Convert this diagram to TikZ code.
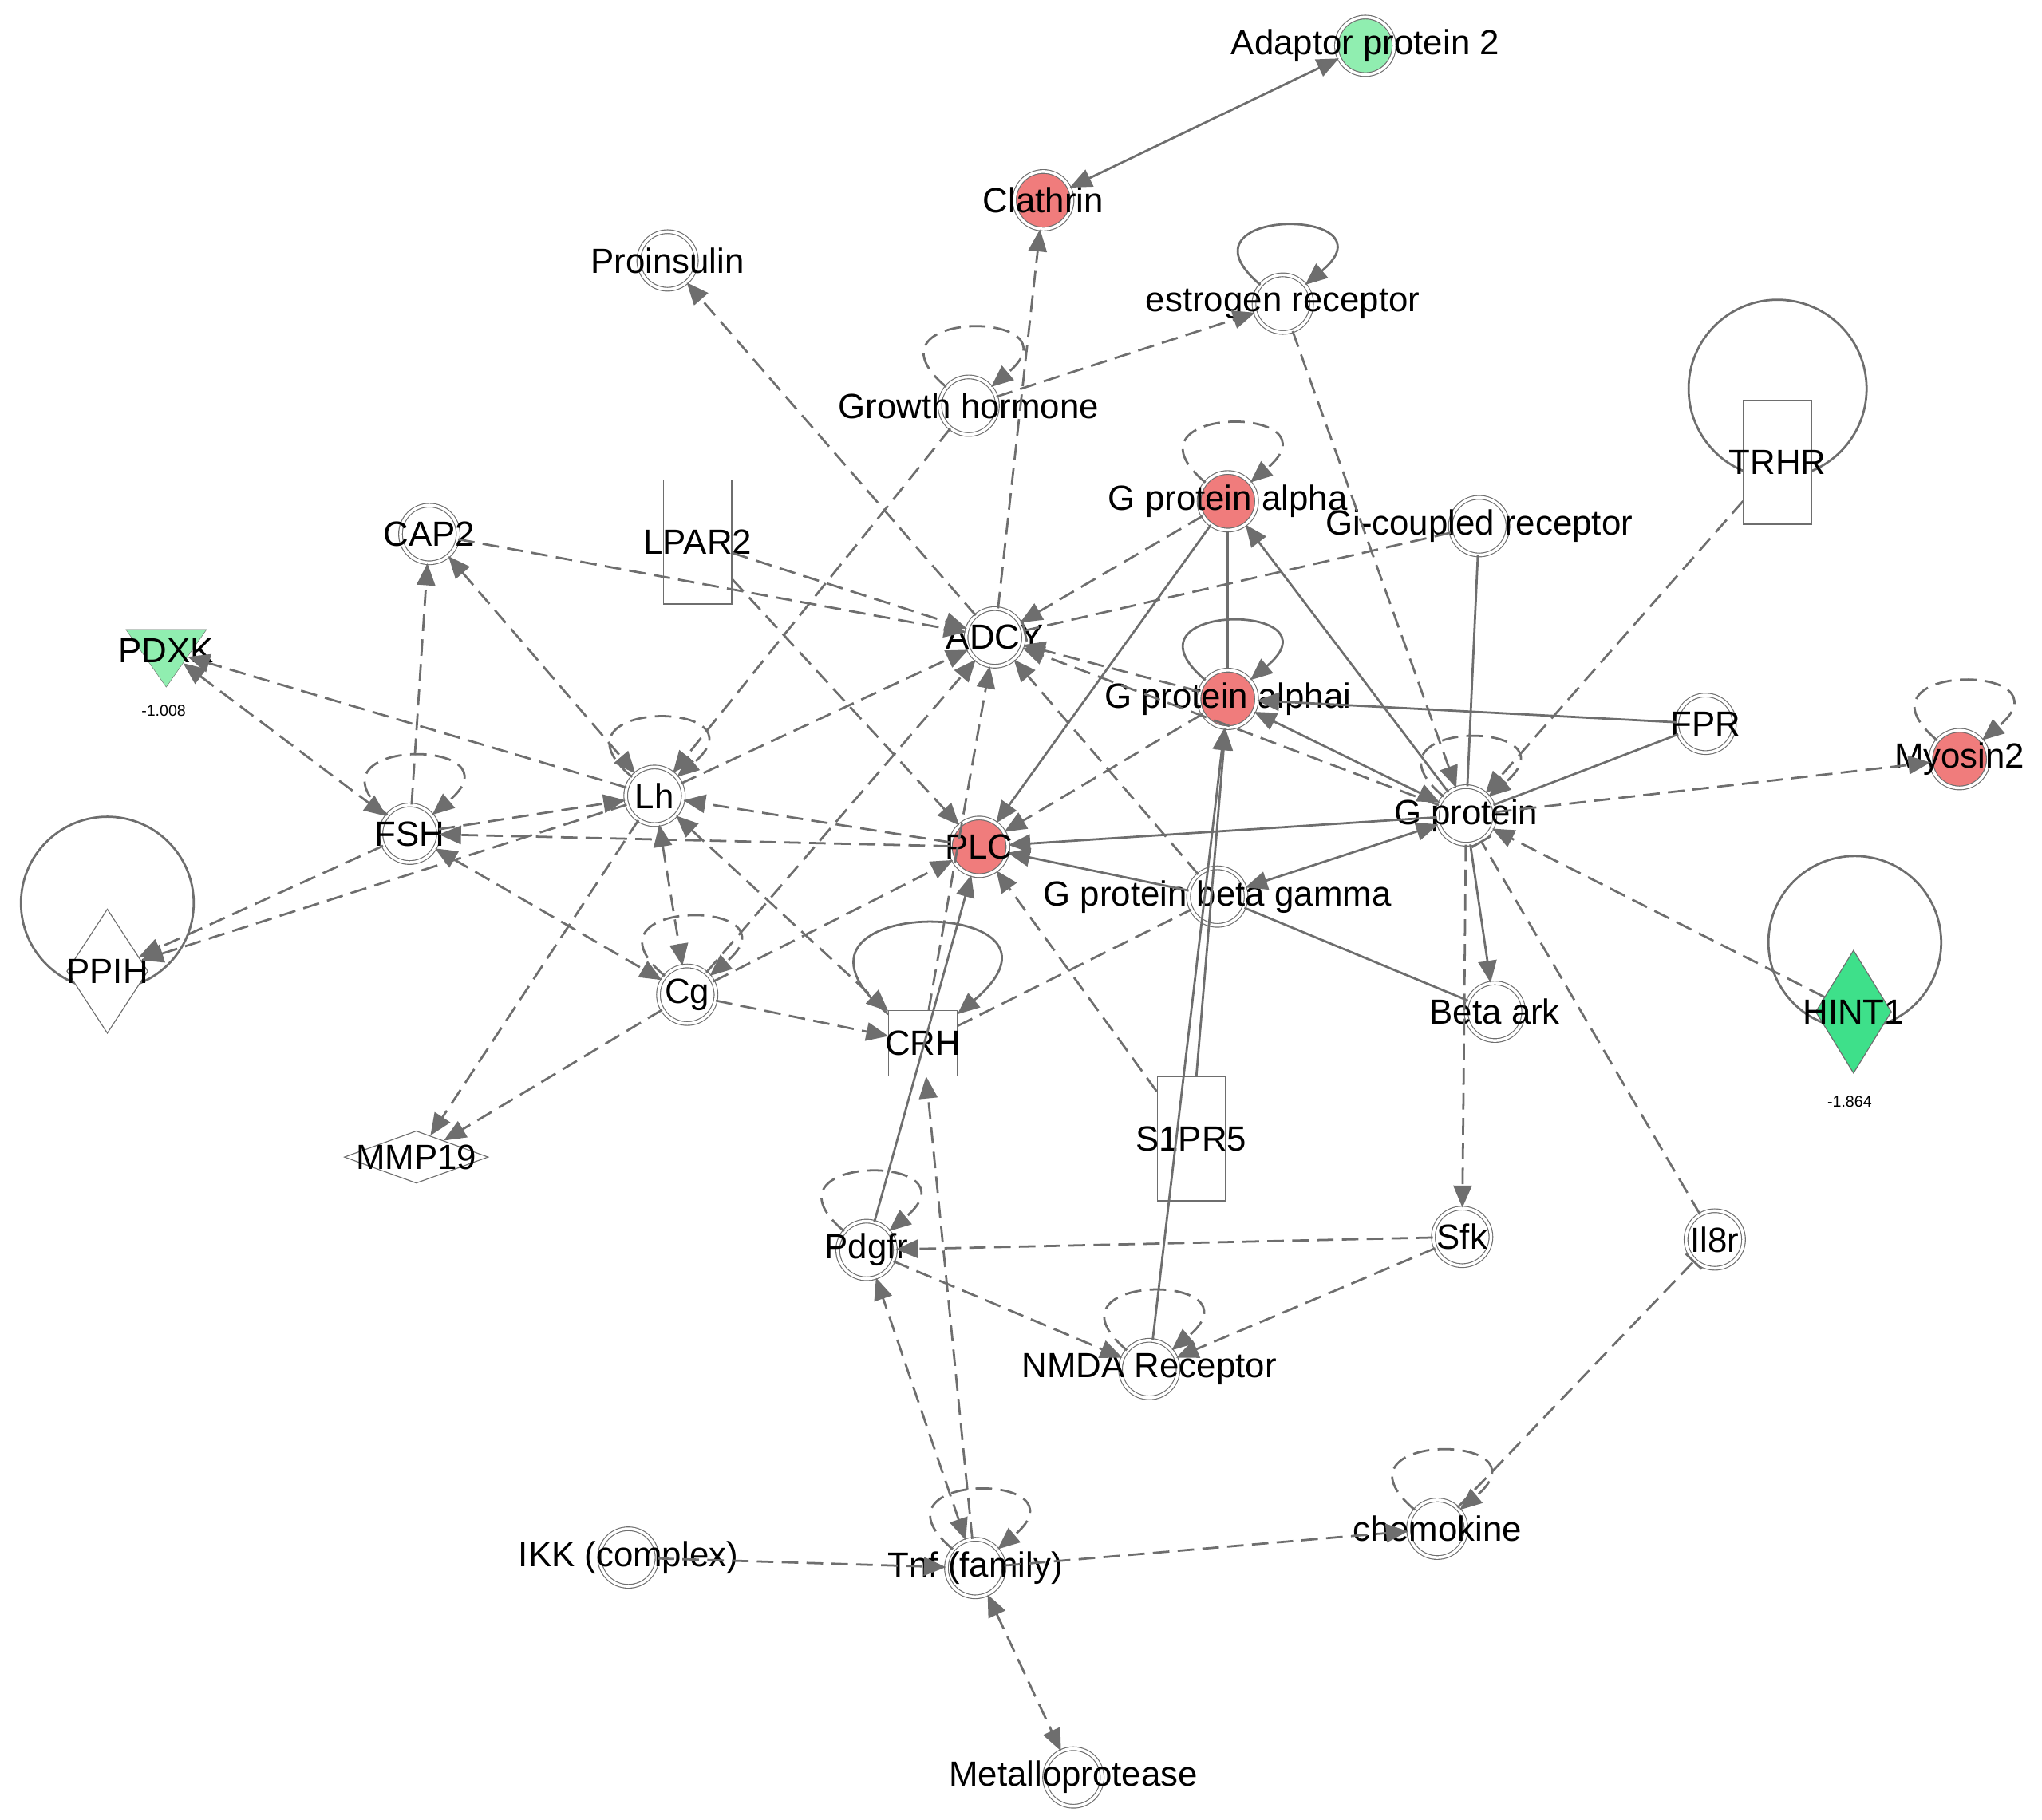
\documentclass[tikz,border=0pt]{standalone}
\usepackage{fontspec}
\setmainfont{Liberation Sans}
\usetikzlibrary{arrows.meta,shapes.geometric}
\definecolor{ln}{HTML}{6E6E6E}
\definecolor{rd}{HTML}{F07C7C}
\definecolor{gr}{HTML}{3EE08A}
\definecolor{lgr}{HTML}{90EEB0}
\begin{document}
\begin{tikzpicture}[x=0.05cm,y=-0.05cm,
 lbl/.style={font=\fontsize{38}{42}\selectfont,text=black},
 mol/.style={circle,draw=ln,line width=1pt,double=white,double distance=3pt,fill=white,minimum size=2.2cm,inner sep=0pt},
 box/.style={rectangle,draw=ln,line width=1pt,fill=white,minimum width=2.6cm,inner sep=0pt},
 e/.style={draw=ln,line width=2.4pt,-{Triangle[length=24pt,width=20pt]}},
 d/.style={e,dash pattern=on 18pt off 9pt},
 bi/.style={{Triangle[length=24pt,width=20pt]}-{Triangle[length=24pt,width=20pt]}},
 nt/.style={-},
 tb/.style={-{Bar[width=24pt]}},
 sl/.style={d,loop above,looseness=7,min distance=3cm,in=40,out=140},
 ss/.style={e,loop above,looseness=7,min distance=3cm,in=40,out=140},
 big/.style={draw=ln,line width=2.4pt}]
\useasboundingbox (0,0) rectangle (1560,1390);
\draw[big] (1358,297) circle (68);
\draw[big] (82,690) circle (66);
\draw[big] (1417,720) circle (66);
% nodes
\node[mol,fill=lgr,label={[lbl]center:Adaptor protein 2}] (ap2) at (1043,35) {};
\node[mol,fill=rd,label={[lbl]center:Clathrin}] (cla) at (797,153) {};
\node[mol,label={[lbl]center:Proinsulin}] (pro) at (510,199) {};
\node[mol,label={[lbl]center:estrogen receptor}] (est) at (980,232) {};
\node[mol,label={[lbl]center:Growth hormone}] (gh) at (740,310) {};
\node[box,minimum height=4.75cm,label={[lbl]center:TRHR}] (trhr) at (1358,353) {};
\node[mol,fill=rd,label={[lbl]center:G protein alpha}] (gpa) at (938,383) {};
\node[mol,label={[lbl]center:Gi-coupled receptor}] (gic) at (1130,402) {};
\node[mol,label={[lbl]center:CAP2}] (cap) at (328,408) {};
\node[box,minimum height=4.75cm,label={[lbl]center:LPAR2}] (lpar) at (533,414) {};
\node[mol,label={[lbl]center:ADCY}] (adcy) at (760,487) {};
\node[isosceles triangle,shape border rotate=-90,isosceles triangle apex angle=70,draw=ln,fill=lgr,minimum height=2.2cm,inner sep=0pt,label={[lbl]center:PDXK}] (pdxk) at (127,497) {};
\node[font=\fontsize{17}{19}\selectfont] (pdxkv) at (125,543) {-1.008};
\node[mol,fill=rd,label={[lbl]center:G protein alphai}] (gpai) at (938,534) {};
\node[mol,label={[lbl]center:FPR}] (fpr) at (1303,553) {};
\node[mol,fill=rd,label={[lbl]center:Myosin2}] (myo) at (1497,580) {};
\node[mol,label={[lbl]center:Lh}] (lh) at (500,608) {};
\node[mol,label={[lbl]center:FSH}] (fsh) at (313,637) {};
\node[mol,fill=rd,label={[lbl]center:PLC}] (plc) at (748,647) {};
\node[mol,label={[lbl]center:G protein}] (gp) at (1120,623) {};
\node[mol,label={[lbl]center:G protein beta gamma}] (gbg) at (930,685) {};
\node[diamond,draw=ln,line width=1pt,fill=white,minimum width=3.1cm,minimum height=4.75cm,inner sep=0pt,label={[lbl]center:PPIH}] (ppih) at (82,742) {};
\node[mol,label={[lbl]center:Cg}] (cg) at (525,760) {};
\node[box,minimum height=2.5cm,label={[lbl]center:CRH}] (crh) at (705,797) {};
\node[mol,label={[lbl]center:Beta ark}] (bark) at (1142,773) {};
\node[diamond,draw=ln,line width=1pt,fill=gr,minimum width=2.9cm,minimum height=4.7cm,inner sep=0pt,label={[lbl]center:HINT1}] (hint) at (1416,773) {};
\node[font=\fontsize{17}{19}\selectfont] (hintv) at (1413,842) {-1.864};
\node[box,minimum height=4.75cm,label={[lbl]center:S1PR5}] (s1p) at (910,870) {};
\node[diamond,draw=ln,line width=1pt,fill=white,minimum width=5.5cm,minimum height=2cm,inner sep=0pt,label={[lbl]center:MMP19}] (mmp) at (318,884) {};
\node[mol,label={[lbl]center:Pdgfr}] (pdg) at (662,955) {};
\node[mol,label={[lbl]center:Sfk}] (sfk) at (1117,945) {};
\node[mol,label={[lbl]center:Il8r}] (il8) at (1310,947) {};
\node[mol,label={[lbl]center:NMDA Receptor}] (nmda) at (878,1046) {};
\node[mol,label={[lbl]center:chemokine}] (chem) at (1098,1168) {};
\node[mol,label={[lbl]center:IKK (complex)}] (ikk) at (480,1190) {};
\node[mol,label={[lbl]center:Tnf (family)}] (tnf) at (745,1198) {};
\node[mol,label={[lbl]center:Metalloprotease}] (met) at (820,1358) {};
% edges
\draw[e,bi] (ap2) -- (cla);
\draw[d] (adcy) -- (cla);
\draw[d] (adcy) -- (pro);
\draw[d] (gh) -- (est);
\draw[d] (gh) -- (lh);
\draw[d] (est) -- (gp);
\draw[d] (trhr) -- (gp);
\draw[d] (gpa) -- (adcy);
\draw[e] (gpa) -- (plc);
\draw[e,nt] (gpa) -- (gpai);
\draw[e] (gp) -- (gpa);
\draw[d,tb] (gic) -- (adcy);
\draw[e,nt] (gic) -- (gp);
\draw[d] (cap) -- (adcy);
\draw[d] (lpar) -- (adcy);
\draw[d] (lpar) -- (plc);
\draw[d,bi] (cap) -- (lh);
\draw[d] (lh) -- (pdxk);
\draw[d,bi] (pdxk) -- (fsh);
\draw[d] (gpai) -- (adcy);
\draw[d] (gpai) -- (plc);
\draw[e] (fpr) -- (gpai);
\draw[e,nt] (fpr) -- (gp);
\draw[e,bi] (gp) -- (gpai);
\draw[d] (gp) -- (myo);
\draw[e] (gp) -- (plc);
\draw[e] (gbg) -- (plc);
\draw[e,bi] (gp) -- (gbg);
\draw[d] (gbg) -- (adcy);
\draw[d] (gp) -- (adcy);
\draw[d] (lh) -- (adcy);
\draw[d] (plc) -- (lh);
\draw[d] (plc) -- (fsh);
\draw[d] (fsh) -- (lh);
\draw[d] (fsh) -- (cap);
\draw[d,bi] (fsh) -- (cg);
\draw[d,bi] (lh) -- (cg);
\draw[d] (lh) -- (ppih);
\draw[d] (fsh) -- (ppih);
\draw[d] (lh) -- (mmp);
\draw[d] (cg) -- (mmp);
\draw[d] (cg) -- (adcy);
\draw[d] (cg) -- (plc);
\draw[d] (cg) -- (crh);
\draw[d] (crh) -- (adcy);
\draw[d,nt] (crh) -- (gbg);
\draw[d,bi] (lh) -- (crh);
\draw[e] (pdg) -- (plc);
\draw[d] (sfk) -- (pdg);
\draw[d] (sfk) -- (nmda);
\draw[d] (pdg) -- (nmda);
\draw[e] (nmda) -- (gpai);
\draw[e] (s1p) -- (gpai);
\draw[d] (s1p) -- (plc);
\draw[e] (gp) -- (bark);
\draw[e,nt] (bark) -- (gbg);
\draw[d] (gp) -- (sfk);
\draw[d] (hint) -- (gp);
\draw[d,tb] (il8) -- (gp);
\draw[d,tb] (chem) -- (il8);
\draw[d] (tnf) -- (chem);
\draw[d] (ikk) -- (tnf);
\draw[d,bi] (tnf) -- (pdg);
\draw[d] (tnf) -- (crh);
\draw[d,bi] (tnf) -- (met);
% self loops
\path (gh) edge[sl] (gh);
\path (est) edge[ss] (est);
\path (gpa) edge[sl] (gpa);
\path (gpai) edge[ss] (gpai);
\path (myo) edge[sl] (myo);
\path (gp) edge[sl] (gp);
\path (lh) edge[sl] (lh);
\path (fsh) edge[sl] (fsh);
\path (cg) edge[sl] (cg);
\path (crh) edge[ss] (crh);
\path (pdg) edge[sl] (pdg);
\path (nmda) edge[sl] (nmda);
\path (chem) edge[sl] (chem);
\path (tnf) edge[sl] (tnf);
\end{tikzpicture}
\end{document}
